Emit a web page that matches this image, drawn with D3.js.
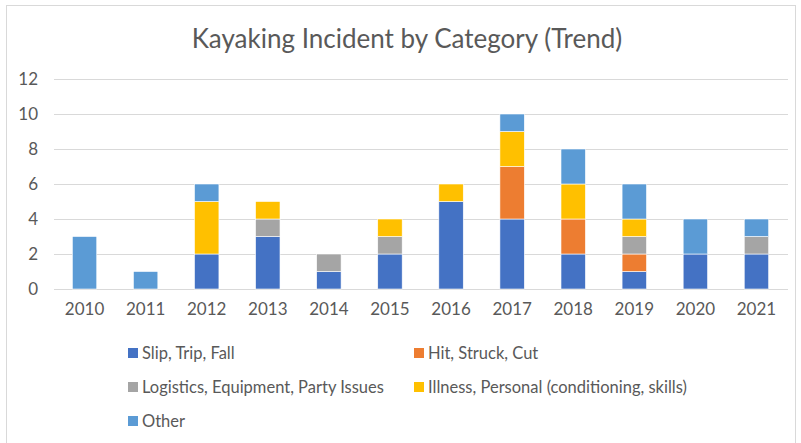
<!DOCTYPE html>
<html lang="en">
<head>
    <meta charset="UTF-8">
    <title>Kayaking Incident by Category</title>
    <style>
        *{ box-sizing: border-box; }
        body{ margin: 0; background: #fff; }
        #main{ width: 801px; height: 443px; }
        text{ font-family: Lato, "Open Sans", sans-serif; fill: #595959; }
    </style>
</head>
<body>
<div id="main"></div>
<script src="https://d3js.org/d3.v7.min.js"></script>
<script>
    /*=========== data ===========*/
    const years = ['2010','2011','2012','2013','2014','2015','2016','2017','2018','2019','2020','2021']
    const seriesNames = ['Slip, Trip, Fall','Hit, Struck, Cut','Logistics, Equipment, Party Issues','Illness, Personal (conditioning, skills)','Other']
    const slipTripFall = [0,0,2,3,1,2,5,4,2,1,2,2]
    const hitStruckCut = [0,0,0,0,0,0,0,3,2,1,0,0]
    const logistics    = [0,0,0,1,1,1,0,0,0,1,0,1]
    const illness      = [0,0,3,1,0,1,1,2,2,1,0,0]
    const other        = [3,1,1,0,0,0,0,1,2,2,2,1]
    const yTicks = [0,2,4,6,8,10,12]
    const colors = ['#4472c4','#ed7d31','#a5a5a5','#ffc000','#5b9bd5']

    /*=========== container ===========*/
    const width = 801, height = 443
    const svg = d3.select('#main').append('svg')
        .attr('width', width)
        .attr('height', height)

    // chart border
    svg.append('rect')
        .attr('x', 6.5).attr('y', 5.5)
        .attr('width', 789).attr('height', 445)
        .attr('fill', 'none')
        .attr('stroke', '#d9d9d9')

    svg.append('text')
        .attr('x', 407).attr('y', 48)
        .attr('text-anchor', 'middle')
        .style('font-size', '26px')
        .text('Kayaking Incident by Category (Trend)')

    /*=========== scales ===========*/
    const rows = years.map((y, i) => ({
        year: y,
        s0: slipTripFall[i], s1: hitStruckCut[i], s2: logistics[i], s3: illness[i], s4: other[i]
    }))
    const keys = ['s0','s1','s2','s3','s4']
    const stacked = d3.stack().keys(keys)(rows)

    const xScale = d3.scaleBand().domain(years).range([54, 787]).paddingInner(0.6).paddingOuter(0.3)
    const yScale = d3.scaleLinear().domain([0, 12]).range([289, 79])

    // gridlines
    svg.append('g')
        .selectAll('line')
        .data(yTicks)
        .join('line')
        .attr('x1', 54).attr('x2', 788)
        .attr('y1', d => Math.round(yScale(d)) + 0.5)
        .attr('y2', d => Math.round(yScale(d)) + 0.5)
        .attr('stroke', '#d9d9d9')

    // y axis labels
    const yAxis = svg.append('g')
        .attr('transform', 'translate(38,0)')
        .call(d3.axisLeft(yScale).tickValues(yTicks).tickSize(0).tickPadding(0))
    yAxis.select('.domain').remove()
    yAxis.selectAll('text').style('font-size', '17px').attr('fill', '#595959')

    // bars
    svg.append('g')
        .selectAll('g')
        .data(stacked)
        .join('g')
        .attr('fill', (d, i) => colors[i])
        .selectAll('rect')
        .data(d => d)
        .join('rect')
        .attr('x', d => xScale(d.data.year))
        .attr('width', xScale.bandwidth())
        .attr('y', d => yScale(d[1]))
        .attr('height', d => yScale(d[0]) - yScale(d[1]))
        .attr('stroke', '#fff')
        .attr('stroke-width', 0.6)

    // x axis labels
    const xAxis = svg.append('g')
        .attr('transform', 'translate(0,289)')
        .call(d3.axisBottom(xScale).tickSize(0).tickPadding(14))
    xAxis.select('.domain').remove()
    xAxis.selectAll('text').style('font-size', '17px').attr('fill', '#595959')

    // legend
    const legendPos = [[128,353],[414,353],[128,387],[414,387],[128,421]]
    const legend = svg.append('g')
        .selectAll('g')
        .data(seriesNames)
        .join('g')
        .attr('transform', (d, i) => `translate(${legendPos[i][0]},${legendPos[i][1]})`)
    legend.append('rect')
        .attr('x', 0).attr('y', -5)
        .attr('width', 10).attr('height', 10)
        .attr('fill', (d, i) => colors[i])
    legend.append('text')
        .attr('x', 14).attr('y', 6)
        .style('font-size', '16.5px')
        .text(d => d)
</script>
</body>
</html>
